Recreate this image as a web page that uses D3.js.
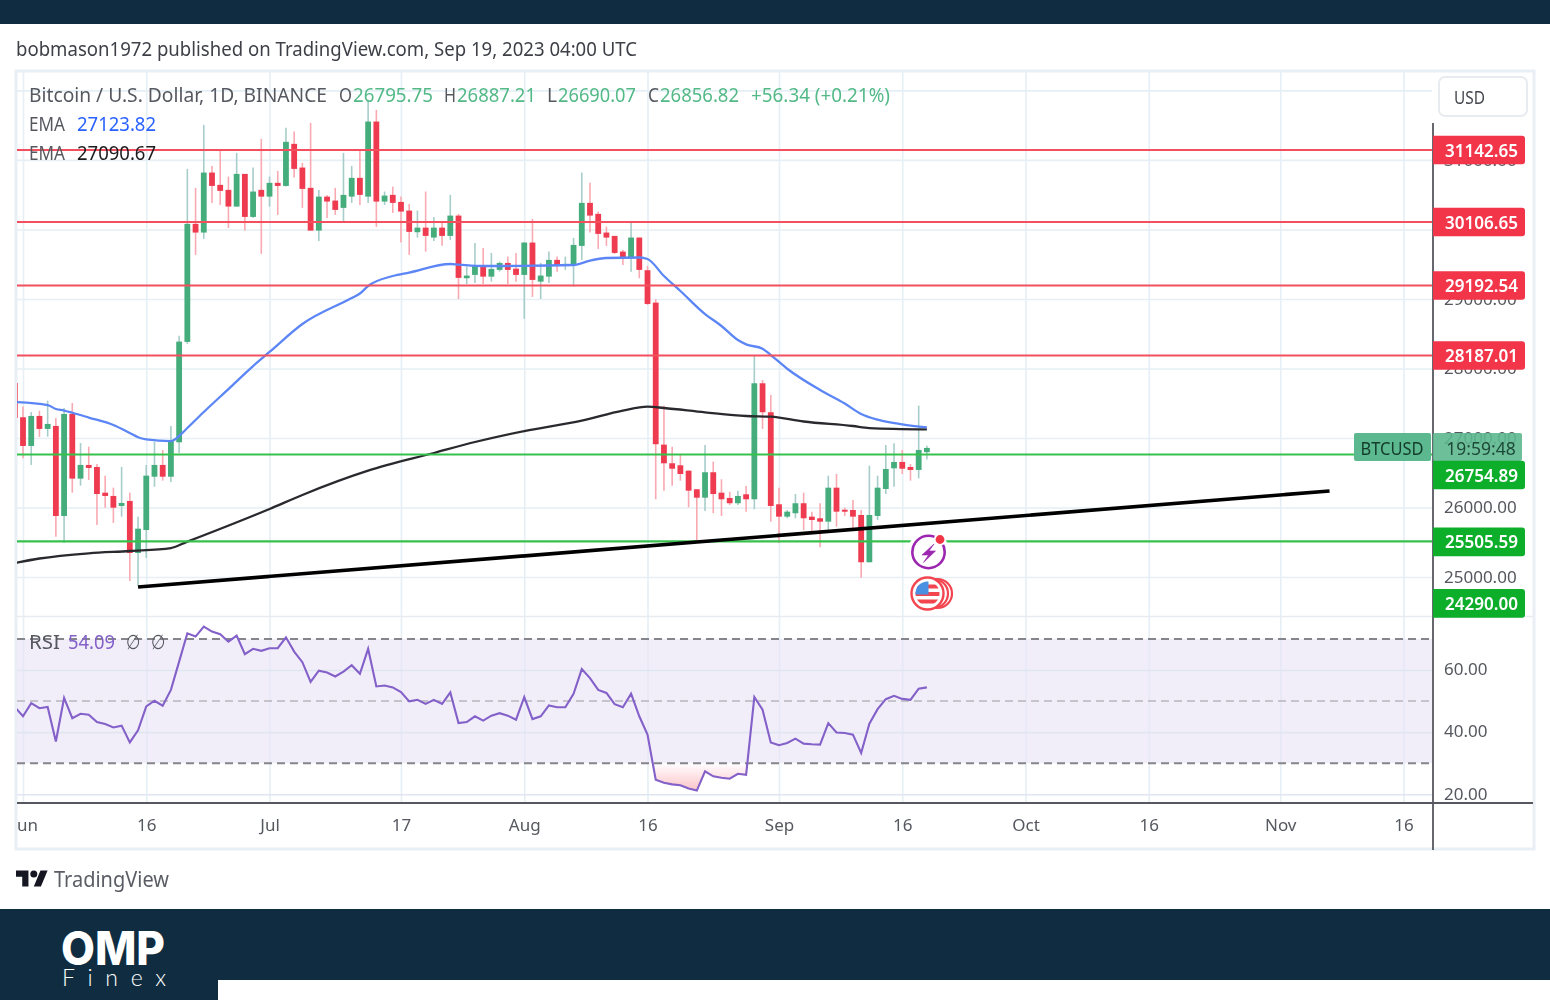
<!DOCTYPE html>
<html><head><meta charset="utf-8">
<script src="https://cdn.jsdelivr.net/npm/d3@7"></script>
<style>
html,body{margin:0;padding:0;background:#fff;overflow:hidden}
text{font-family:"Noto Sans",sans-serif}
</style></head><body><div id="chart"></div>
<script>
// ---------- DATA (daily candles, first candle = 2023-05-31) ----------
const firstDay = "2023-05-31";
const opens  = [27792,27298,26885,27317,27130,27173,25878,27346,26415,26612,26583,26213,26166,26022,26094,25345,25676,26443,26612,26443,26938,28382,30080,29955,30818,30641,30569,30329,30799,30180,30569,30472,30670,30626,31231,30890,30598,29983,30472,30415,30310,30472,30742,30472,31552,30401,30497,30396,30271,29960,30026,29883,30026,29907,30199,29298,29346,29480,29321,29418,29518,29436,29346,29811,29249,29321,29562,29475,29490,29763,30382,30224,29955,29907,29681,29586,29883,29413,28947,26904,26636,26607,26530,26262,26141,26507,26213,26137,26061,26190,26118,27787,27370,26046,25868,25917,26061,25868,25845,25796,26285,25968,25964,25892,25212,25878,26266,26564,26655,26583,26540,26795.75];
const highs  = [27792,27451,27374,27393,27537,27288,27432,27504,26928,26875,26626,26458,26285,26583,26213,25868,26612,26947,26828,27173,28472,30871,30598,31504,30914,31145,30760,31101,30799,30890,31303,30760,30842,31461,31408,30957,31533,30569,30497,30598,31101,30914,31145,31864,31720,30545,30616,30472,30367,30271,30545,30180,30113,30497,30224,29465,29806,29734,29662,29537,29609,29662,29821,30152,29518,29681,29609,29609,29878,30818,30670,30257,30041,29907,29706,30108,29883,29475,28996,27465,26875,26756,26530,26262,26899,26659,26406,26227,26242,26309,28195,27835,27619,26285,25964,26194,26213,25940,26061,26458,26482,25997,26108,25964,26602,26458,26899,26924,26828,26626,27465,26887.21];
const lows   = [27288,26708,26612,27015,27019,25580,25494,26213,26314,26396,25748,25997,25777,25868,24942,24875,25273,26299,26386,26367,26784,28353,29634,29864,30382,30353,30022,30324,29983,30166,29648,30329,30209,30616,30746,30310,29983,29835,30166,30209,30094,30382,30353,30382,30037,30353,30238,29811,29634,29883,29681,29835,29767,29849,29000,29216,29231,29216,29249,29393,29216,29249,28713,29029,29000,29231,29393,29418,29177,29562,29955,29720,29763,29648,29490,29393,29298,28914,26118,26242,26314,26386,26003,25532,25950,25917,25878,26036,26036,25940,25974,27130,25796,25489,25845,25845,25676,25652,25427,25676,25724,25878,25701,24990,25212,25820,26194,26299,26482,26386,26420,26690.07];
const closes = [27288,26885,27317,27130,27202,25878,27346,26415,26612,26569,26194,26166,25997,26065,25345,25695,26458,26612,26443,26971,28386,30080,29955,30818,30626,30555,30329,30799,30180,30545,30472,30670,30626,31260,30871,30583,29983,30472,30401,30281,30497,30742,30497,31552,30401,30487,30382,30257,29965,30026,29907,30026,29907,30199,29303,29336,29475,29321,29432,29518,29418,29346,29811,29274,29336,29562,29480,29504,29777,30382,30199,29936,29883,29662,29586,29883,29418,28928,26910,26636,26558,26482,26242,26141,26507,26194,26118,26061,26166,26118,27787,27370,26022,25868,25940,26061,25845,25820,25796,26285,25940,25945,25868,25212,25892,26285,26554,26655,26558,26540,26828,26856.82];

// EMA values, by day counted from 2023-06-01
const emaFastDays   = [-1,3,4,5,6,8,11,13,14,15,18,19,20,22,25,28,30,34,40,41,42,45,47,52,53,56,67,69,71,75,76,78,80,83,85,87,88,90,91,93,97,100,102,104,107,110];
const emaFastValues = [27517,27474,27417,27395,27363,27294,27187,27071,27010,26981,26956,27028,27143,27374,27704,28035,28237,28639,29013,29078,29186,29330,29380,29503,29495,29474,29488,29553,29589,29596,29574,29330,29114,28783,28611,28409,28347,28284,28193,27996,27690,27496,27345,27263,27197,27153];
const emaSlowDays   = [-1,2,8,13,18,20,30,34,42,50,55,61,68,73,76,78,83,88,91,95,101,103,110];
const emaSlowValues = [25201,25266,25341,25374,25417,25508,25978,26180,26529,26784,26942,27100,27251,27395,27450,27431,27369,27316,27306,27237,27172,27143,27125];

// RSI, one value per candle from 2023-05-31
const rsiValues = [48.1,45.1,49.35,47.7,48.1,37.0,51.0,44.5,45.9,45.6,43.25,42.6,41.5,42.1,36.7,40.6,48.3,50.1,48.5,53.6,62.7,71.8,70.75,73.96,72.35,71.5,69.1,71.07,65.1,66.8,66.15,67.0,67.0,70.5,65.9,62.5,56.2,59.8,59.2,57.9,59.5,61.55,58.8,66.8,54.7,55.0,54.4,52.9,49.9,50.4,49.1,50.4,49.1,52.8,42.9,43.25,45.1,43.7,45.3,46.1,45.3,44.0,51.3,44.2,45.1,48.6,48.0,48.0,52.35,60.3,57.4,53.6,52.6,49.0,48.0,52.35,45.1,39.2,24.7,23.7,23.2,22.9,21.85,21.2,27.4,25.8,25.3,25.0,26.6,26.3,51.3,47.2,36.7,35.8,36.5,37.9,36.3,36.1,36.0,42.9,39.9,39.7,39.2,33.3,42.7,47.4,50.6,51.7,50.7,50.4,54.0,54.4];

const trendDates  = ["2023-06-15","2023-11-07"];
const trendPrices = [24856,26237];

const priceTicks = [25000,26000,27000,28000,29000,30000,31000,32000];
const priceTickLabels = [25000,26000,27000,28000,29000,31000];
const rsiTicks = [20,40,60];
const rsiBands = [70,50,30];
const timeTickDates = ["2023-06-01","2023-06-16","2023-07-01","2023-07-17","2023-08-01","2023-08-16","2023-09-01","2023-09-16","2023-10-01","2023-10-16","2023-11-01","2023-11-16"];
const timeTickLabels = ["un","16","Jul","17","Aug","16","Sep","16","Oct","16","Nov","16"];

const redLevels = [31142.65,30106.65,29192.54,28187.01];
const greenLevels = [26754.89,25505.59,24290.00];
const greenLabelShift = [20,0,-23];

// ---------- SETUP ----------
const W=1550,H=1000, navy="#0f2c40";
const upC="#45ad7c", downC="#ef3a50", upW="#a6cdc9", downW="#f9a9b1";
const redLine="#f4505f", greenLine="#36c14c", redBox="#f2344a", greenBox="#0fae2c", textC="#55585f";
const paneL=17, paneR=1432;

const parse=d3.utcParse("%Y-%m-%d");
const day0=parse(firstDay);
const x=d3.scaleUtc().domain([parse("2023-06-01"),parse("2023-11-16")]).range([23,1403.5]);
const y=d3.scaleLinear().domain([25000,31142.65]).range([577,150]);
const yR=d3.scaleLinear().domain([20,70]).range([794.3,638.9]);
const candles=opens.map((o,i)=>({date:d3.utcDay.offset(day0,i),o,h:highs[i],l:lows[i],c:closes[i]}));
const jun1=parse("2023-06-01");
const dayOf=n=>d3.utcDay.offset(jun1,n);

const svg=d3.select("#chart").append("svg").attr("width",W).attr("height",H).style("display","block");
const defs=svg.append("defs");
defs.append("filter").attr("id","soft").attr("x","-2%").attr("y","-2%").attr("width","104%").attr("height","104%")
  .append("feGaussianBlur").attr("stdDeviation",0.55);
defs.append("clipPath").attr("id","pricePane").append("rect").attr("x",paneL).attr("y",72).attr("width",paneR-paneL).attr("height",544);
defs.append("clipPath").attr("id","rsiPane").append("rect").attr("x",paneL).attr("y",617).attr("width",paneR-paneL).attr("height",186);
defs.append("clipPath").attr("id","oversold").append("rect").attr("x",paneL).attr("y",yR(30)).attr("width",paneR-paneL).attr("height",yR(20)-yR(30)+6);
const g=defs.append("linearGradient").attr("id","osGrad").attr("gradientUnits","userSpaceOnUse").attr("x1",0).attr("x2",0).attr("y1",yR(30)).attr("y2",yR(20));
g.append("stop").attr("offset","0%").attr("stop-color","#f23645").attr("stop-opacity",0);
g.append("stop").attr("offset","100%").attr("stop-color","#f23645").attr("stop-opacity",0.34);

svg.append("rect").attr("width",W).attr("height",H).attr("fill","#fff");
svg.append("rect").attr("width",W).attr("height",24).attr("fill",navy);
svg.append("rect").attr("y",909).attr("width",W).attr("height",91).attr("fill",navy);
svg.append("rect").attr("x",218).attr("y",980).attr("width",W-218).attr("height",20).attr("fill","#fff");

const root=svg.append("g").attr("filter","url(#soft)");

root.append("text").attr("x",16).attr("y",56).attr("font-size",20).attr("fill","#3c3f46")
  .attr("textLength",621).attr("lengthAdjust","spacingAndGlyphs")
  .text("bobmason1972 published on TradingView.com, Sep 19, 2023 04:00 UTC");

// frame
root.append("rect").attr("x",16).attr("y",71).attr("width",1518).attr("height",778).attr("fill","none").attr("stroke","#e9eff4").attr("stroke-width",3);

// grid
const gridC="#e6eff5";
const vGrid=root.append("g").attr("transform","translate(0,72)")
  .call(d3.axisBottom(x).tickValues(timeTickDates.map(parse)).tickSize(731).tickFormat(""));
vGrid.select(".domain").remove();
vGrid.selectAll("line").attr("stroke",gridC).attr("stroke-width",1.6);
const hGrid=root.append("g").attr("transform",`translate(${paneL},0)`)
  .call(d3.axisRight(y).tickValues(priceTicks).tickSize(paneR-paneL).tickFormat(""));
hGrid.select(".domain").remove();
hGrid.selectAll("line").attr("stroke",gridC).attr("stroke-width",1.6);

// pane separator
root.append("line").attr("x1",paneL).attr("x2",1533).attr("y1",616.5).attr("y2",616.5).attr("stroke","#e8ecf0").attr("stroke-width",1.5);

// RSI band
root.append("rect").attr("x",paneL).attr("width",paneR-paneL).attr("y",yR(70)).attr("height",yR(30)-yR(70)).attr("fill","#e8e2f6").attr("opacity",0.6);
const rGrid=root.append("g").attr("transform",`translate(${paneL},0)`)
  .call(d3.axisRight(yR).tickValues(rsiTicks).tickSize(paneR-paneL).tickFormat(""));
rGrid.select(".domain").remove();
rGrid.selectAll("line").attr("stroke","#dfe6f0").attr("stroke-width",1.6);
root.append("g").selectAll("line").data(rsiBands).join("line")
  .attr("x1",paneL).attr("x2",paneR).attr("y1",d=>yR(d)).attr("y2",d=>yR(d))
  .attr("stroke",d=>d===50?"#b6b6ba":"#85858b").attr("stroke-width",d=>d===50?1.5:2).attr("stroke-dasharray","8 5");

// candles
const cg=root.append("g").attr("clip-path","url(#pricePane)");
cg.selectAll(".wick").data(candles).join("line").attr("class","wick")
  .attr("x1",d=>x(d.date)).attr("x2",d=>x(d.date)).attr("y1",d=>y(d.h)).attr("y2",d=>y(d.l))
  .attr("stroke",d=>d.c>=d.o?upW:downW).attr("stroke-width",1.6);
cg.selectAll(".body").data(candles).join("rect").attr("class","body")
  .attr("x",d=>x(d.date)-2.9).attr("width",5.8)
  .attr("y",d=>y(Math.max(d.o,d.c))).attr("height",d=>Math.max(2,Math.abs(y(d.o)-y(d.c))))
  .attr("fill",d=>d.c>=d.o?upC:downC);

// EMA lines
const emaLine=d3.line().curve(d3.curveMonotoneX).x(d=>x(d.date)).y(d=>y(d.v));
const ema=(days,vals)=>days.map((n,i)=>({date:dayOf(n),v:vals[i]}));
cg.append("path").datum(ema(emaSlowDays,emaSlowValues)).attr("d",emaLine).attr("fill","none").attr("stroke","#2a2a2e").attr("stroke-width",2.3);
cg.append("path").datum(ema(emaFastDays,emaFastValues)).attr("d",emaLine).attr("fill","none").attr("stroke","#5b86f5").attr("stroke-width",2.3);

// horizontal levels
cg.selectAll(".red").data(redLevels).join("line").attr("x1",paneL).attr("x2",paneR).attr("y1",d=>y(d)).attr("y2",d=>y(d)).attr("stroke",redLine).attr("stroke-width",2.1);
cg.selectAll(".green").data(greenLevels).join("line").attr("x1",paneL).attr("x2",paneR).attr("y1",d=>y(d)-0.5).attr("y2",d=>y(d)-0.5).attr("stroke",greenLine).attr("stroke-width",2.1);

// trend line
cg.append("line").attr("x1",x(parse(trendDates[0]))).attr("y1",y(trendPrices[0])).attr("x2",x(parse(trendDates[1]))).attr("y2",y(trendPrices[1]))
  .attr("stroke","#000").attr("stroke-width",3.6);

// RSI line and oversold fill
const rsiData=rsiValues.map((v,i)=>({date:d3.utcDay.offset(day0,i),v}));
root.append("g").attr("clip-path","url(#oversold)").append("path").datum(rsiData.slice(76,92))
  .attr("d",d3.area().x(d=>x(d.date)).y0(yR(30)).y1(d=>yR(d.v))).attr("fill","url(#osGrad)");
root.append("g").attr("clip-path","url(#rsiPane)").append("path").datum(rsiData)
  .attr("d",d3.line().x(d=>x(d.date)).y(d=>yR(d.v))).attr("fill","none").attr("stroke","#8460c9").attr("stroke-width",2.1);

// axes lines
root.append("line").attr("x1",1433).attr("x2",1433).attr("y1",123).attr("y2",850).attr("stroke","#55585f").attr("stroke-width",1.8);
root.append("line").attr("x1",paneL).attr("x2",1533).attr("y1",803).attr("y2",803).attr("stroke","#55585f").attr("stroke-width",2);

// axes labels
function styleAxis(s){s.select(".domain").remove();s.selectAll("line").remove();s.selectAll("text").attr("fill",textC).attr("font-size",17).attr("font-family",'"Noto Sans",sans-serif');}
root.append("g").attr("transform","translate(1433,0)")
  .call(d3.axisRight(y).tickValues(priceTickLabels).tickSize(0).tickPadding(11).tickFormat(d3.format(".2f"))).call(styleAxis);
root.append("g").attr("transform","translate(1433,-0.6)")
  .call(d3.axisRight(yR).tickValues(rsiTicks).tickSize(0).tickPadding(11).tickFormat(d3.format(".2f"))).call(styleAxis);
const timeAxis=root.append("g").attr("transform","translate(0,803)")
  .call(d3.axisBottom(x).tickValues(timeTickDates.map(parse)).tickSize(0).tickPadding(15.5).tickFormat((d,i)=>timeTickLabels[i])).call(styleAxis);
timeAxis.selectAll("text").filter((d,i)=>i===0).attr("dx",4);

// level boxes
const box=(cy,fill,txt,w=92)=>{
  const b=root.append("g");
  b.append("path").attr("d",`M1433,${cy-14.3}h${w-3}a3,3 0 0 1 3,3v${22.6}a3,3 0 0 1 -3,3h-${w-3}z`).attr("fill",fill);
  b.append("text").attr("x",1481.5).attr("y",cy+6.6).attr("text-anchor","middle").attr("font-size",17.5).attr("font-weight",600).attr("fill","#fff").attr("textLength",73).attr("lengthAdjust","spacingAndGlyphs").text(txt);
};
redLevels.forEach(v=>box(y(v),redBox,d3.format(".2f")(v)));

// countdown + ticker tags
root.append("rect").attr("x",1354).attr("y",433).attr("width",77).attr("height",28).attr("rx",2).attr("fill","#5cb88f");
root.append("text").attr("x",1392).attr("y",454.5).attr("text-anchor","middle").attr("font-size",18).attr("fill","#123a2a").attr("textLength",63).attr("lengthAdjust","spacingAndGlyphs").text("BTCUSD");
root.append("rect").attr("x",1433).attr("y",433).attr("width",89).attr("height",28).attr("rx",2).attr("fill","#5cb88f").attr("opacity",0.9);
root.append("text").attr("x",1481).attr("y",455).attr("text-anchor","middle").attr("font-size",17.5).attr("fill","#1e4a38").text("19:59:48");
greenLevels.forEach((v,i)=>box(y(v)+greenLabelShift[i],greenBox,d3.format(".2f")(v)));

// USD button
root.append("rect").attr("x",1439).attr("y",77).attr("width",88).attr("height",39).attr("rx",6).attr("fill","#fff").attr("stroke","#e8ebf0").attr("stroke-width",2);
root.append("text").attr("x",1454).attr("y",103.5).attr("font-size",17.5).attr("fill","#44474e").attr("textLength",31).attr("lengthAdjust","spacingAndGlyphs").text("USD");

// legend
const upT="#53b987";
const legend=[
 ["Bitcoin / U.S. Dollar, 1D, BINANCE",29,298,textC],["O",339,13,textC],["26795.75",353,80,upT],["H",444,12,textC],["26887.21",457,79,upT],
 ["L",547,10,textC],["26690.07",558,78,upT],["C",648,11,textC],["26856.82",660,79,upT],["+56.34 (+0.21%)",751,139,upT]];
legend.forEach(([t,xx,w,c])=>root.append("text").attr("x",xx).attr("y",102).attr("font-size",20).attr("fill",c).attr("textLength",w).attr("lengthAdjust","spacingAndGlyphs").text(t));
[["EMA",29,36,textC,131],["27123.82",77,79,"#2962ff",131],["EMA",29,36,textC,160],["27090.67",77,79,"#1c1c1f",160],
 ["RSI",29,31,textC,649],["54.09",68,47,"#8460c9",649],["∅",126,14,textC,649],["∅",151,14,textC,649]].forEach(([t,xx,w,c,yy])=>
 root.append("text").attr("x",xx).attr("y",yy).attr("font-size",20).attr("fill",c).attr("textLength",w).attr("lengthAdjust","spacingAndGlyphs").text(t));

// event icons
const ic=root.append("g");
ic.append("circle").attr("cx",928.5).attr("cy",552).attr("r",21).attr("fill","#fff");
ic.append("circle").attr("cx",928.5).attr("cy",552).attr("r",16.2).attr("fill","#fff").attr("stroke","#9c27b0").attr("stroke-width",2.6);
ic.append("path").attr("d","M934,544 L922,555 L928.5,555 L923.5,562.5 L935.5,551 L929,551 Z").attr("fill","#9c27b0").attr("stroke","#9c27b0").attr("stroke-width",0.6);
ic.append("circle").attr("cx",940).attr("cy",539.5).attr("r",6.2).attr("fill","#fff");
ic.append("circle").attr("cx",940).attr("cy",539.5).attr("r",4.4).attr("fill","#f23645");
const fx=927.5,fy=593.5;
defs.append("clipPath").attr("id","flagClip").append("circle").attr("cx",fx).attr("cy",fy).attr("r",12);
[10,6].forEach(d=>ic.append("circle").attr("cx",fx+d).attr("cy",fy).attr("r",14.5).attr("fill","#fff").attr("stroke","#f2454f").attr("stroke-width",2.2));
ic.append("circle").attr("cx",fx).attr("cy",fy).attr("r",16).attr("fill","#fff").attr("stroke","#f2454f").attr("stroke-width",2.4);
const fl=ic.append("g").attr("clip-path","url(#flagClip)");
fl.append("rect").attr("x",fx-13).attr("y",fy-13).attr("width",26).attr("height",26).attr("fill","#fff");
[-9,-1.5,6].forEach(d=>fl.append("rect").attr("x",fx-13).attr("y",fy+d).attr("width",26).attr("height",4).attr("fill","#f2454f"));
fl.append("rect").attr("x",fx-13).attr("y",fy-13).attr("width",14).attr("height",14).attr("fill","#4a90e2");

// TradingView mark
root.append("path").attr("transform","translate(16,867) scale(.89)").attr("fill","#131722")
  .attr("d","M14 22H7V11H0V4h14v18zM28 22h-8l7.5-18h8L28 22z");
root.append("circle").attr("cx",16+20*.89).attr("cy",867+8*.89).attr("r",3.5).attr("fill","#131722");
root.append("text").attr("x",54).attr("y",887).attr("font-size",21).attr("fill","#5a5d64").attr("textLength",115).attr("lengthAdjust","spacingAndGlyphs").text("TradingView");

// OMP Finex
svg.append("text").attr("x",61).attr("y",965).attr("font-size",46).attr("font-weight",800).attr("fill","#fff")
  .attr("textLength",104).attr("lengthAdjust","spacingAndGlyphs").style("font-family","Inter,sans-serif").text("OMP");
svg.append("text").attr("x",62).attr("y",986).attr("font-size",23).attr("font-weight",300).attr("fill","#fff")
  .attr("textLength",104).style("font-family","Lato,sans-serif").text("Finex");
</script></body></html>
